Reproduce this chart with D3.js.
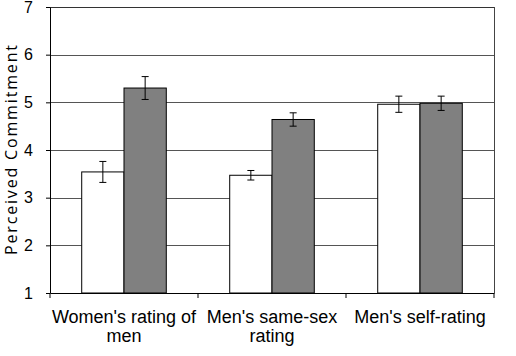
<!DOCTYPE html>
<html>
<head>
<meta charset="utf-8">
<script src="https://cdn.jsdelivr.net/npm/d3@7"></script>
<style>
  body { margin: 0; background: #fff; }
  svg { display: block; }
</style>
</head>
<body>
<div id="chart"></div>
<script>
// Data
const categories = [["Women's rating of", "men"], ["Men's same-sex", "rating"], ["Men's self-rating"]];
const seriesNames = ['white', 'gray'];
const whiteValues = [3.54, 3.47, 4.96];
const grayValues = [5.30, 4.64, 4.98];
const whiteErrors = [0.22, 0.10, 0.17];
const grayErrors = [0.24, 0.14, 0.15];
const yTicks = [1, 2, 3, 4, 5, 6, 7];

const W = 516, H = 356;
const margin = { top: 7, right: 22, bottom: 63, left: 50 };
const width = W - margin.left - margin.right;
const height = H - margin.top - margin.bottom;

const svg = d3.select('#chart').append('svg')
    .attr('width', W)
    .attr('height', H);

const g = svg.append('g')
    .attr('transform', `translate(${margin.left},${margin.top})`);

// Scales
const x0 = d3.scaleBand()
    .domain(d3.range(categories.length))
    .range([0, width])
    .paddingInner(0)
    .paddingOuter(0);

// 150% gap width: half a gap on each side of the bar pair
const x1 = d3.scaleBand()
    .domain(seriesNames)
    .range([0, x0.bandwidth()])
    .paddingInner(0)
    .paddingOuter(0.75);

const y = d3.scaleLinear()
    .domain([1, 7])
    .range([height, 0]);

// Grid lines
g.append('g')
    .selectAll('line')
    .data(yTicks.slice(1))
    .enter()
    .append('line')
    .attr('x1', 0)
    .attr('x2', width)
    .attr('y1', d => Math.round(y(d)) + 0.5)
    .attr('y2', d => Math.round(y(d)) + 0.5)
    .attr('stroke', d => d === 7 ? '#333' : '#555')
    .attr('stroke-width', 1);

// Right border
g.append('line')
    .attr('x1', width + 0.5).attr('x2', width + 0.5)
    .attr('y1', 0).attr('y2', height)
    .attr('stroke', '#444');

// Bars
const rows = categories.map((c, i) => ({
    i,
    vals: [
        { s: 'white', v: whiteValues[i], e: whiteErrors[i], fill: '#ffffff' },
        { s: 'gray', v: grayValues[i], e: grayErrors[i], fill: '#808080' }
    ]
}));

const groups = g.selectAll('.grp')
    .data(rows)
    .enter()
    .append('g')
    .attr('class', 'grp')
    .attr('transform', d => `translate(${x0(d.i)},0)`);

groups.selectAll('rect')
    .data(d => d.vals)
    .enter()
    .append('rect')
    .attr('x', d => x1(d.s))
    .attr('y', d => y(d.v))
    .attr('width', x1.bandwidth())
    .attr('height', d => y(1) - y(d.v))
    .attr('fill', d => d.fill)
    .attr('stroke', '#000')
    .attr('stroke-width', 1);

// Error bars
const err = groups.selectAll('.err')
    .data(d => d.vals)
    .enter()
    .append('g')
    .attr('class', 'err')
    .attr('transform', d => `translate(${x1(d.s) + x1.bandwidth() / 2},0)`);

err.append('line')
    .attr('y1', d => y(d.v + d.e))
    .attr('y2', d => y(d.v - d.e))
    .attr('stroke', '#000');
err.append('line')
    .attr('x1', -3.5).attr('x2', 3.5)
    .attr('y1', d => y(d.v + d.e))
    .attr('y2', d => y(d.v + d.e))
    .attr('stroke', '#000');
err.append('line')
    .attr('x1', -3.5).attr('x2', 3.5)
    .attr('y1', d => y(d.v - d.e))
    .attr('y2', d => y(d.v - d.e))
    .attr('stroke', '#000');

// Y axis
const yAxis = g.append('g')
    .call(d3.axisLeft(y).tickValues(yTicks).tickSize(4).tickSizeOuter(0).tickFormat(d3.format('d')));
yAxis.select('.domain').attr('stroke', '#000');
yAxis.selectAll('line').attr('stroke', '#000');
yAxis.selectAll('text')
    .attr('x', -17)
    .style('font-family', 'Liberation Sans, Arial, sans-serif')
    .style('font-size', '16px')
    .attr('fill', '#000');

// X axis
const xAxis = g.append('g')
    .attr('transform', `translate(0,${height})`)
    .call(d3.axisBottom(x0).tickValues([]).tickSizeOuter(0));
xAxis.select('.domain').attr('stroke', '#000');

xAxis.selectAll('.cat-tick')
    .data(d3.range(categories.length + 1))
    .enter()
    .append('line')
    .attr('class', 'cat-tick')
    .attr('x1', d => d * x0.step())
    .attr('x2', d => d * x0.step())
    .attr('y1', 0)
    .attr('y2', 5)
    .attr('stroke', '#000');

const labels = xAxis.selectAll('.cat-label')
    .data(categories)
    .enter()
    .append('text')
    .attr('class', 'cat-label')
    .attr('x', (d, i) => x0(i) + x0.bandwidth() / 2)
    .attr('y', 30)
    .attr('text-anchor', 'middle')
    .style('font-family', 'Liberation Sans, Arial, sans-serif')
    .style('font-size', '18px')
    .attr('fill', '#000');

labels.selectAll('tspan')
    .data(d => d)
    .enter()
    .append('tspan')
    .attr('x', function() { return d3.select(this.parentNode).attr('x'); })
    .attr('dy', (d, i) => i === 0 ? 0 : 19)
    .text(d => d);

// Y axis title
g.append('text')
    .attr('transform', `translate(${-33},${height / 2}) rotate(-90)`)
    .attr('text-anchor', 'middle')
    .attr('textLength', 210)
    .attr('lengthAdjust', 'spacing')
    .style('font-family', 'Open Sans, DejaVu Sans, sans-serif')
    .style('font-size', '16px')
    .attr('fill', '#000')
    .text('Perceived Commitment');
</script>
</body>
</html>
